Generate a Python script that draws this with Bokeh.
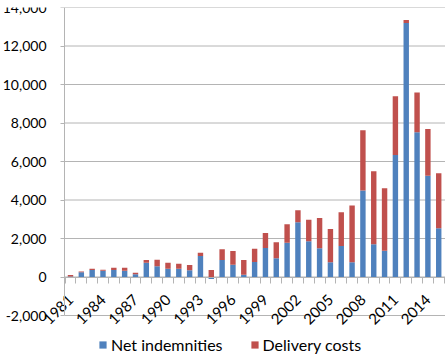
import math
from bokeh.plotting import figure
from bokeh.models import (ColumnDataSource, FixedTicker, NumeralTickFormatter,
                          Legend, LegendItem, Range1d)
from bokeh.embed import file_html
from bokeh.resources import INLINE

# ---- data ----
years = list(range(1981, 2016))
net_indemnities = [30, 250, 370, 330, 360, 330, 140, 740, 560, 430,
                   430, 350, 1090, -100, 880, 640, 120, 780, 1510, 980,
                   1780, 2850, 1860, 1500, 770, 1610, 770, 4500, 1700, 1370,
                   6340, 13200, 7520, 5260, 2530]
delivery_costs = [80, 30, 60, 50, 120, 150, 80, 140, 340, 310,
                  260, 270, 170, 370, 560, 710, 760, 690, 780, 830,
                  960, 620, 1110, 1560, 1730, 1760, 2950, 3120, 3790, 3240,
                  3050, 150, 2070, 2430, 2860]
x_tick_years = list(range(1981, 2015, 3))
y_ticks = list(range(-2000, 14001, 2000))

# stacked positions (negative values stack below zero, positive above)
net_bottom = [min(v, 0) for v in net_indemnities]
net_top = [max(v, 0) for v in net_indemnities]
del_bottom = [max(v, 0) for v in net_indemnities]
del_top = [max(v, 0) + d for v, d in zip(net_indemnities, delivery_costs)]

src = ColumnDataSource(dict(year=years, nb=net_bottom, nt=net_top,
                            db=del_bottom, dt=del_top))

FONT = "Lato"
BLUE = "#4F81BD"
RED = "#C0504D"
GRID = "#B4B4B4"

# ---- layout (pixels) ----
W, H = 445, 356
TOP, AX_BOTTOM = 7, 315          # pixel rows of 14,000 and -2,000
AXIS_X, FIRST_BAR_X, STEP = 64, 70, 10.83
px_per_unit = (AX_BOTTOM - TOP) / (y_ticks[-1] - y_ticks[0])
y_lo = y_ticks[0] - (H - AX_BOTTOM) / px_per_unit     # room for legend inside frame
x_lo = years[0] - FIRST_BAR_X / STEP                  # room for y labels inside frame
x_hi = years[0] + (W - FIRST_BAR_X) / STEP
x_axis_loc = years[0] - (FIRST_BAR_X - AXIS_X) / STEP

p = figure(width=W, height=H, output_backend="svg", toolbar_location=None,
           x_range=Range1d(x_lo, x_hi), y_range=Range1d(y_lo, y_ticks[-1]),
           min_border_left=0, min_border_right=0, min_border_top=TOP,
           min_border_bottom=0)
p.outline_line_color = None
p.background_fill_color = "white"
p.xgrid.visible = False
p.ygrid.visible = False

# horizontal gridlines, starting at the value axis
p.segment(x0=[x_axis_loc] * len(y_ticks), x1=[x_hi] * len(y_ticks),
          y0=y_ticks, y1=y_ticks, line_color=GRID, line_width=1)

r_net = p.vbar(x="year", width=0.5, bottom="nb", top="nt", source=src,
               fill_color=BLUE, line_color=None)
r_del = p.vbar(x="year", width=0.5, bottom="db", top="dt", source=src,
               fill_color=RED, line_color=None)

# y axis (drawn at the left edge of the category area)
ya = p.yaxis[0]
ya.fixed_location = x_axis_loc
ya.ticker = FixedTicker(ticks=y_ticks)
ya.bounds = (y_ticks[0], y_ticks[-1])
ya.formatter = NumeralTickFormatter(format="0,0")
ya.axis_line_color = GRID
ya.major_tick_line_color = GRID
ya.major_tick_out = 4
ya.major_tick_in = 0
ya.minor_tick_line_color = None
ya.major_label_standoff = 14
ya.major_label_text_font = FONT
ya.major_label_text_font_size = "14px"
ya.major_label_text_color = "#000000"

# x axis drawn at zero
xa = p.xaxis[0]
xa.fixed_location = 0
xa.bounds = (x_axis_loc, x_hi)
xa.ticker = FixedTicker(ticks=x_tick_years,
                        minor_ticks=[y - 0.5 for y in years] + [years[-1] + 0.5])
xa.axis_line_color = GRID
xa.major_tick_line_color = None
xa.minor_tick_line_color = GRID
xa.minor_tick_out = 6
xa.minor_tick_in = 0
xa.major_label_orientation = math.pi / 4
xa.major_label_standoff = 14
xa.major_label_text_font = FONT
xa.major_label_text_font_size = "15px"
xa.major_label_text_color = "#000000"

legend = Legend(items=[LegendItem(label="Net indemnities", renderers=[r_net]),
                       LegendItem(label="Delivery costs", renderers=[r_del])],
                orientation="horizontal", location=(98, 2))
legend.glyph_width = 9
legend.glyph_height = 9
legend.label_height = 16
legend.label_standoff = 4
legend.spacing = 27
legend.padding = 0
legend.margin = 0
legend.border_line_color = None
legend.background_fill_alpha = 0
legend.label_text_font = FONT
legend.label_text_font_size = "16px"
legend.label_text_color = "#000000"
p.add_layout(legend, "center")

open("out.html", "w").write(file_html(p, INLINE))
